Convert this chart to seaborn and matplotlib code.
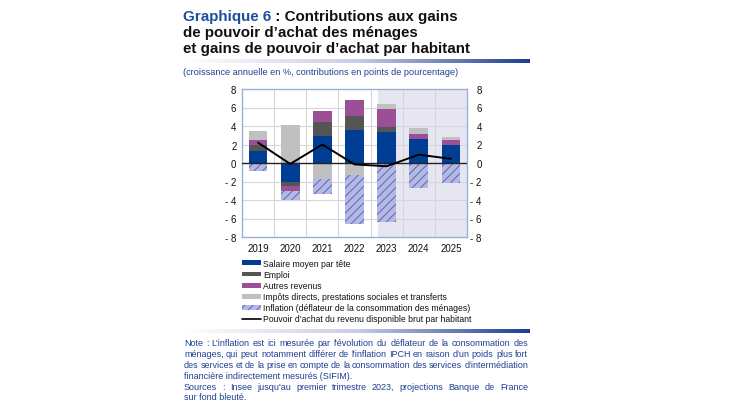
import numpy as np
import pandas as pd
import matplotlib
matplotlib.use("Agg")
import matplotlib.pyplot as plt
import seaborn as sns
from matplotlib.patches import Patch
from matplotlib.lines import Line2D
from matplotlib.colors import LinearSegmentedColormap

# ---------------- data ----------------
years = ["2019", "2020", "2021", "2022", "2023", "2024", "2025"]
salaire = [1.25, -2.1, 2.95, 3.6, 3.4, 2.6, 2.0]
emploi = [0.75, -0.4, 1.5, 1.5, 0.45, 0.0, 0.0]
autres = [0.5, -0.55, 1.15, 1.75, 2.0, 0.5, 0.45]
impots = [0.95, 4.15, -1.7, -1.35, 0.5, 0.7, 0.35]
inflation = [-0.9, -0.95, -1.6, -5.25, -6.4, -2.7, -2.15]
pouvoir = [2.2, -0.1, 2.0, -0.15, -0.35, 0.9, 0.45]
yticks = [-8, -6, -4, -2, 0, 2, 4, 6, 8]
ytick_labels = ["- 8", "- 6", "- 4", "- 2", "0", "2", "4", "6", "8"]

labels = ["Salaire moyen par tête", "Emploi", "Autres revenus",
          "Impôts directs, prestations sociales et transferts",
          "Inflation (déflateur de la consommation des ménages)",
          "Pouvoir d’achat du revenu disponible brut par habitant"]

C_BLUE = "#003e95"
C_DGRAY = "#555555"
C_PURPLE = "#9a4f97"
C_LGRAY = "#bfc0bf"
C_INFL = "#b5b9e2"
C_HATCH = "#5565c2"
C_TEXT = "#1e3f94"
C_SHADE = "#e6e6f2"

sns.set_style("white")
plt.rcParams["font.family"] = ["Liberation Sans", "DejaVu Sans"]
plt.rcParams["hatch.linewidth"] = 0.7

W, H = 730, 410
fig = plt.figure(figsize=(W / 100, H / 100), dpi=100)

def fx(px):
    return px / W

def fy(py):
    return 1 - py / H

ax = fig.add_axes([fx(242), fy(238), fx(467) - fx(242), fy(90) - fy(238)])

# background shading for projections
ax.axvspan(3.74, 6.6, color=C_SHADE, zorder=0, lw=0)
for xv in np.arange(0.5, 6.5, 1.0):
    ax.axvline(xv, color="#d6d6d6", lw=0.8, zorder=0.5)
for yv in [-6, -4, -2, 2, 4, 6]:
    ax.axhline(yv, color="#d6d6d6", lw=0.8, zorder=0.5)

# stacked bars via cumulative layering
layers = [salaire, emploi, autres, impots]
colors = [C_BLUE, C_DGRAY, C_PURPLE, C_LGRAY]
arr = np.array(layers, dtype=float)
pos = np.clip(arr, 0, None).cumsum(axis=0)
neg_layers = np.vstack([np.clip(arr, None, 0), np.array(inflation)[None, :]])
neg = neg_layers.cumsum(axis=0)

bw = 0.58
for k in range(len(layers) - 1, -1, -1):
    df = pd.DataFrame({"year": years, "v": pos[k]})
    sns.barplot(data=df, x="year", y="v", color=colors[k], saturation=1,
                width=bw, errorbar=None, linewidth=0, ax=ax, zorder=2)

# negative side: inflation (hatched) first
df = pd.DataFrame({"year": years, "v": neg[-1]})
sns.barplot(data=df, x="year", y="v", color=C_INFL, saturation=1, width=bw,
            errorbar=None, linewidth=0, edgecolor=C_HATCH, hatch="////",
            ax=ax, zorder=2)
for k in range(len(layers) - 1, -1, -1):
    df = pd.DataFrame({"year": years, "v": neg[k]})
    sns.barplot(data=df, x="year", y="v", color=colors[k], saturation=1,
                width=bw, errorbar=None, linewidth=0, ax=ax, zorder=2)

ax.axhline(0, color="#222222", lw=1.0, zorder=3)
dfl = pd.DataFrame({"year": years, "v": pouvoir})
sns.lineplot(data=dfl, x="year", y="v", color="black", lw=1.4, ax=ax,
             zorder=4, sort=False)

ax.set_xlim(-0.5, 6.5)
ax.set_ylim(-8, 8)
ax.set_yticks(yticks)
ax.set_yticklabels(ytick_labels)
ax.set_xlabel("")
ax.set_ylabel("")
ax.tick_params(axis="both", length=0, labelsize=7, colors="#111111")
ax.tick_params(axis="x", pad=4)
ax.tick_params(axis="y", pad=4)
for s in ax.spines.values():
    s.set_color("#9aaed6")
    s.set_linewidth(1.0)
    s.set_visible(True)
ax.grid(False)

ax2 = ax.twinx()
ax2.set_ylim(-8, 8)
ax2.set_yticks(yticks)
ax2.set_yticklabels(ytick_labels)
ax2.tick_params(axis="y", length=0, labelsize=7, colors="#111111", pad=10.6)
for lab in ax2.get_yticklabels():
    lab.set_horizontalalignment("right")
for s in ax2.spines.values():
    s.set_visible(False)
ax2.grid(False)

# ---------------- title ----------------
tfs = 10.9
t1 = fig.text(fx(183), fy(21), "Graphique 6", color="#1f4e9c", fontsize=tfs,
              fontweight="bold", va="baseline", ha="left")
fig.canvas.draw()
r = fig.canvas.get_renderer()
bb = t1.get_window_extent(r)
fig.text(bb.x1 / (W), fy(21), " : Contributions aux gains", color="#111111",
         fontsize=tfs, fontweight="bold", va="baseline", ha="left")
fig.text(fx(183), fy(37), "de pouvoir d’achat des ménages", color="#111111",
         fontsize=tfs, fontweight="bold", va="baseline", ha="left")
fig.text(fx(183), fy(53), "et gains de pouvoir d’achat par habitant",
         color="#111111", fontsize=tfs, fontweight="bold", va="baseline",
         ha="left")

# gradient rules
cmap = LinearSegmentedColormap.from_list("g", ["#ffffff", "#c9cde6", "#1d3d93"])
grad = np.linspace(0, 1, 256)[None, :]
for ytop in (59.5, 330):
    gax = fig.add_axes([fx(184), fy(ytop + 4.5), fx(530) - fx(184), 4.5 / H])
    gax.imshow(grad, aspect="auto", cmap=cmap)
    gax.set_axis_off()

fig.text(fx(183), fy(72.5), "(croissance annuelle en %, contributions en points de pourcentage)",
         color=C_TEXT, fontsize=6.6, va="center", ha="left")

# ---------------- legend ----------------
handles = [Patch(facecolor=C_BLUE, edgecolor="none"),
           Patch(facecolor=C_DGRAY, edgecolor="none"),
           Patch(facecolor=C_PURPLE, edgecolor="none"),
           Patch(facecolor=C_LGRAY, edgecolor="none"),
           Patch(facecolor=C_INFL, edgecolor=C_HATCH, hatch="////", lw=0),
           Line2D([], [], color="black", lw=1.2)]
leg = fig.legend(handles, labels, loc="upper left",
                 bbox_to_anchor=(fx(242), fy(260)), frameon=False,
                 fontsize=6.2, handlelength=2.2, handleheight=0.5,
                 handletextpad=0.25, labelspacing=0.24, borderaxespad=0,
                 borderpad=0)
for t in leg.get_texts():
    t.set_color("#111111")

# ---------------- note (justified) ----------------
note_lines = [
    ("Note : L'inflation est ici mesurée par l'évolution du déflateur de la consommation des", True),
    ("ménages, qui peut notamment différer de l'inflation IPCH en raison d'un poids plus fort", True),
    ("des services et de la prise en compte de la consommation des services d'intermédiation", True),
    ("financière indirectement mesurés (SIFIM).", False),
    ("Sources : Insee jusqu'au premier trimestre 2023, projections Banque de France", True),
    ("sur fond bleuté.", False),
]
nfs = 6.5
x0, x1 = 184, 528
for i, (line, just) in enumerate(note_lines):
    yy = fy(344 + 10.8 * i)
    if not just:
        fig.text(fx(x0), yy, line, color=C_TEXT, fontsize=nfs, va="center", ha="left")
        continue
    words = line.split(" ")
    tmp = [fig.text(0, 0, w, fontsize=nfs) for w in words]
    widths = [t.get_window_extent(r).width for t in tmp]
    for t in tmp:
        t.remove()
    gap = ((x1 - x0) - sum(widths)) / (len(words) - 1)
    xc = x0
    for w, wd in zip(words, widths):
        fig.text(fx(xc), yy, w, color=C_TEXT, fontsize=nfs, va="center", ha="left")
        xc += wd + gap

fig.savefig("out.png", dpi=100)
